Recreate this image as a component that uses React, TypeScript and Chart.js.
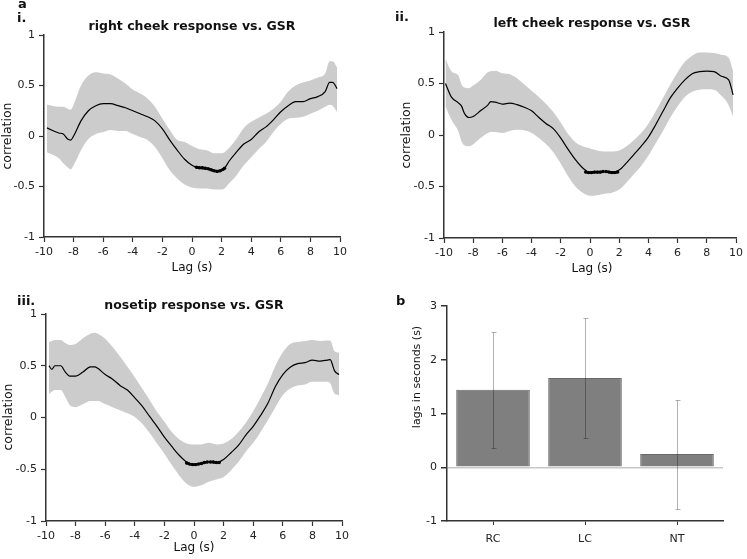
import React, { useEffect, useRef } from 'react';
import { Chart, registerables } from 'chart.js';

Chart.register(...registerables);

const FONT = "'DejaVu Sans', sans-serif";
const BAND = '#cccccc';
const AXIS = '#333333';
const TICK_TEXT = '#222222';

// ---------- panel i : right cheek ----------
const lagI = [-9.8, -9, -8.7, -8.4, -8.2, -8, -7.5, -7, -6.5, -6, -5.5, -5, -4.5, -4, -3.5, -3, -2.5, -2, -1.5, -1, -0.5, 0, 0.5, 1, 1.5, 2, 2.2, 2.5, 3, 3.5, 4, 4.5, 5, 5.5, 6, 6.5, 7, 7.5, 8, 8.5, 9, 9.3, 9.5, 9.8];
const meanI = [0.08, 0.03, 0.02, -0.03, -0.04, 0.0, 0.15, 0.25, 0.3, 0.32, 0.32, 0.3, 0.28, 0.25, 0.22, 0.19, 0.15, 0.07, -0.04, -0.14, -0.23, -0.29, -0.32, -0.325, -0.35, -0.34, -0.32, -0.25, -0.16, -0.08, -0.035, 0.04, 0.09, 0.16, 0.24, 0.3, 0.34, 0.34, 0.37, 0.39, 0.44, 0.53, 0.53, 0.47];
const upperI = [0.31, 0.29, 0.29, 0.27, 0.26, 0.31, 0.5, 0.6, 0.63, 0.62, 0.61, 0.57, 0.52, 0.46, 0.42, 0.37, 0.29, 0.17, 0.06, -0.04, -0.06, -0.1, -0.13, -0.14, -0.17, -0.17, -0.16, -0.12, -0.03, 0.08, 0.14, 0.18, 0.22, 0.27, 0.34, 0.44, 0.5, 0.53, 0.55, 0.58, 0.62, 0.74, 0.74, 0.68];
const lowerI = [-0.16, -0.22, -0.27, -0.31, -0.33, -0.29, -0.14, -0.03, 0.02, 0.04, 0.06, 0.05, 0.05, 0.02, -0.01, -0.04, -0.11, -0.22, -0.34, -0.42, -0.48, -0.51, -0.52, -0.52, -0.53, -0.53, -0.52, -0.47, -0.39, -0.29, -0.21, -0.13, -0.06, 0.04, 0.12, 0.17, 0.18, 0.19, 0.22, 0.25, 0.29, 0.31, 0.3, 0.24];
const sigLagI = [0.3, 0.5, 0.7, 0.9, 1.1, 1.3, 1.5, 1.7, 1.9, 2.1, 2.2];
const sigValI = [-0.31, -0.315, -0.315, -0.32, -0.325, -0.335, -0.345, -0.35, -0.345, -0.33, -0.32];

// ---------- panel ii : left cheek ----------
const lagII = [-9.9, -9.5, -9, -8.8, -8.6, -8.3, -8, -7.5, -7, -6.8, -6.5, -6, -5.5, -5, -4.5, -4, -3.5, -3, -2.5, -2, -1.5, -1, -0.5, 0, 0.5, 1, 1.5, 2, 2.5, 3, 3.5, 4, 4.5, 5, 5.5, 6, 6.5, 7, 7.5, 8, 8.5, 9, 9.5, 9.8];
const meanII = [0.5, 0.37, 0.31, 0.28, 0.21, 0.17, 0.18, 0.235, 0.29, 0.325, 0.32, 0.3, 0.31, 0.295, 0.27, 0.235, 0.17, 0.11, 0.06, -0.03, -0.14, -0.24, -0.32, -0.365, -0.36, -0.355, -0.36, -0.34, -0.27, -0.19, -0.11, -0.02, 0.1, 0.23, 0.36, 0.455, 0.535, 0.595, 0.615, 0.62, 0.615, 0.57, 0.535, 0.39];
const upperII = [0.74, 0.62, 0.575, 0.49, 0.46, 0.455, 0.48, 0.535, 0.61, 0.62, 0.625, 0.6, 0.59, 0.55, 0.49, 0.43, 0.37, 0.3, 0.22, 0.12, 0.01, -0.07, -0.11, -0.13, -0.15, -0.16, -0.16, -0.15, -0.11, -0.05, 0.02, 0.11, 0.23, 0.36, 0.49, 0.61, 0.71, 0.77, 0.8, 0.8, 0.795, 0.78, 0.75, 0.62];
const lowerII = [0.28, 0.15, 0.03, -0.06, -0.1, -0.11, -0.09, -0.03, 0.02, 0.03, 0.03, 0.02, 0.04, 0.05, 0.045, 0.02, -0.03, -0.09, -0.17, -0.28, -0.4, -0.5, -0.56, -0.59, -0.585, -0.57, -0.56, -0.53, -0.46, -0.38, -0.3, -0.2, -0.08, 0.04, 0.17, 0.28, 0.37, 0.42, 0.44, 0.445, 0.44, 0.38, 0.29, 0.18];
const sigLagII = [-0.3, -0.1, 0.1, 0.3, 0.5, 0.7, 0.9, 1.0, 1.1, 1.3, 1.5, 1.7, 1.9];
const sigValII = [-0.36, -0.365, -0.365, -0.36, -0.36, -0.36, -0.355, null, -0.355, -0.36, -0.365, -0.365, -0.36];

// ---------- panel iii : nosetip ----------
const lagIII = [-9.8, -9.6, -9.4, -9, -8.7, -8.4, -8, -7.5, -7, -6.7, -6.5, -6, -5.5, -5, -4.5, -4, -3.5, -3, -2.5, -2, -1.5, -1, -0.5, 0, 0.5, 1, 1.5, 2, 2.5, 3, 3.5, 4, 4.5, 5, 5.5, 6, 6.5, 7, 7.5, 8, 8.5, 9, 9.2, 9.5, 9.8];
const meanIII = [0.5, 0.465, 0.5, 0.5, 0.44, 0.4, 0.4, 0.44, 0.49, 0.49, 0.475, 0.415, 0.37, 0.31, 0.265, 0.19, 0.11, 0.01, -0.085, -0.19, -0.28, -0.365, -0.43, -0.455, -0.445, -0.43, -0.44, -0.405, -0.34, -0.27, -0.17, -0.085, 0.02, 0.14, 0.3, 0.415, 0.485, 0.52, 0.53, 0.555, 0.545, 0.555, 0.56, 0.45, 0.415];
const upperIII = [0.73, 0.74, 0.75, 0.75, 0.72, 0.7, 0.71, 0.765, 0.81, 0.82, 0.81, 0.76, 0.68, 0.59, 0.49, 0.39, 0.28, 0.17, 0.055, -0.04, -0.14, -0.21, -0.25, -0.26, -0.26, -0.245, -0.26, -0.25, -0.21, -0.14, -0.05, 0.06, 0.19, 0.33, 0.5, 0.63, 0.71, 0.73, 0.74, 0.75, 0.74, 0.745, 0.745, 0.64, 0.625];
const lowerIII = [0.23, 0.25, 0.265, 0.265, 0.2, 0.12, 0.1, 0.13, 0.16, 0.16, 0.16, 0.13, 0.1, 0.07, 0.04, 0.005, -0.06, -0.15, -0.25, -0.35, -0.46, -0.56, -0.64, -0.67, -0.655, -0.62, -0.6, -0.575, -0.51, -0.43, -0.33, -0.245, -0.14, -0.025, 0.1, 0.215, 0.28, 0.31, 0.32, 0.345, 0.345, 0.345, 0.33, 0.23, 0.215];
const sigLagIII = [-0.5, -0.3, -0.1, 0.1, 0.3, 0.5, 0.7, 0.9, 1.0, 1.1, 1.3, 1.5, 1.7];
const sigValIII = [-0.44, -0.45, -0.455, -0.455, -0.45, -0.445, -0.435, -0.43, null, -0.43, -0.43, -0.435, -0.435];

// ---------- panel b : lags ----------
const lagCategories = ['RC', 'LC', 'NT'];
const lagMeans = [1.44, 1.66, 0.245];
const lagErrors = [1.08, 1.11, 1.015];

const lagTicks = { min: -10, max: 10, step: 2 };
const corrTicks = { min: -1, max: 1, step: 0.5 };
const barTicks = { min: -1, max: 3, step: 1 };

const toPoints = (xs: number[], ys: (number | null)[]) => xs.map((x, i) => ({ x, y: ys[i] }));
const plainNumber = (v: any) => String(Math.round(Number(v) * 100) / 100);

type TextItem = { text: string; x: number; y: number; font: string; align?: CanvasTextAlign; rotate?: boolean };

const textPlugin = (items: TextItem[]) => ({
  id: 'panelText',
  afterDraw(chart: any) {
    const ctx = chart.ctx as CanvasRenderingContext2D;
    ctx.save();
    ctx.fillStyle = '#111';
    items.forEach((t) => {
      ctx.font = t.font;
      ctx.textAlign = t.align || 'left';
      if (t.rotate) {
        ctx.save();
        ctx.translate(t.x, t.y);
        ctx.rotate(-Math.PI / 2);
        ctx.textBaseline = 'middle';
        ctx.fillText(t.text, 0, 0);
        ctx.restore();
      } else {
        ctx.textBaseline = 'alphabetic';
        ctx.fillText(t.text, t.x, t.y);
      }
    });
    ctx.restore();
  },
});

type LinePanel = {
  lags: number[];
  mean: number[];
  upper: number[];
  lower: number[];
  sigLags: number[];
  sigVals: (number | null)[];
  padding: { left: number; right: number; top: number; bottom: number };
  yWidth: number;
  xHeight: number;
  texts: TextItem[];
};

function lineConfig(p: LinePanel): any {
  return {
    type: 'line',
    data: {
      datasets: [
        {
          data: toPoints(p.sigLags, p.sigVals),
          borderColor: '#000',
          backgroundColor: '#000',
          borderWidth: 2.6,
          pointRadius: 1.7,
          pointBorderWidth: 0,
          spanGaps: false,
          fill: false,
        },
        {
          data: toPoints(p.lags, p.mean),
          borderColor: '#000',
          borderWidth: 1.2,
          pointRadius: 0,
          cubicInterpolationMode: 'monotone',
          fill: false,
        },
        {
          data: toPoints(p.lags, p.lower),
          borderWidth: 0,
          borderColor: 'rgba(0,0,0,0)',
          pointRadius: 0,
          cubicInterpolationMode: 'monotone',
          fill: false,
        },
        {
          data: toPoints(p.lags, p.upper),
          borderWidth: 0,
          borderColor: 'rgba(0,0,0,0)',
          backgroundColor: BAND,
          pointRadius: 0,
          cubicInterpolationMode: 'monotone',
          fill: '-1',
        },
      ],
    },
    options: {
      responsive: false,
      animation: false,
      events: [],
      layout: { padding: p.padding },
      plugins: {
        legend: { display: false },
        tooltip: { enabled: false },
        filler: { drawTime: 'beforeDatasetsDraw' },
      },
      scales: {
        x: {
          type: 'linear',
          min: lagTicks.min,
          max: lagTicks.max,
          ticks: { stepSize: lagTicks.step, color: TICK_TEXT, font: { family: FONT, size: 11 }, padding: 4, maxRotation: 0, autoSkip: false, callback: plainNumber },
          grid: { display: true, drawOnChartArea: false, drawTicks: true, tickLength: 5, color: AXIS, tickWidth: 1.2 },
          border: { display: true, color: AXIS, width: 1.5 },
          afterFit: (s: any) => { s.height = p.xHeight; },
        },
        y: {
          type: 'linear',
          min: corrTicks.min,
          max: corrTicks.max,
          ticks: { stepSize: corrTicks.step, color: TICK_TEXT, font: { family: FONT, size: 11 }, padding: 4, callback: plainNumber },
          grid: { display: true, drawOnChartArea: false, drawTicks: true, tickLength: 5, color: AXIS, tickWidth: 1.2 },
          border: { display: true, color: AXIS, width: 1.5 },
          afterFit: (s: any) => { s.width = p.yWidth; },
        },
      },
    },
    plugins: [textPlugin(p.texts)],
  };
}

const BOLD = `bold 13px ${FONT}`;
const TITLE = `bold 12.5px ${FONT}`;
const AXT = `12px ${FONT}`;
const AXY = `12.5px ${FONT}`;

const panelI: LinePanel = {
  lags: lagI, mean: meanI, upper: upperI, lower: lowerI, sigLags: sigLagI, sigVals: sigValI,
  padding: { left: 0, right: 34, top: 35, bottom: 0 }, yWidth: 44, xHeight: 43,
  texts: [
    { text: 'a', x: 18, y: 8, font: BOLD },
    { text: 'i.', x: 17, y: 22, font: BOLD },
    { text: 'right cheek response vs. GSR', x: 192, y: 30, font: TITLE, align: 'center' },
    { text: 'correlation', x: 8, y: 136, font: AXY, align: 'center', rotate: true },
    { text: 'Lag (s)', x: 192, y: 271, font: AXT, align: 'center' },
  ],
};

const panelII: LinePanel = {
  lags: lagII, mean: meanII, upper: upperII, lower: lowerII, sigLags: sigLagII, sigVals: sigValII,
  padding: { left: 26, right: 7, top: 32, bottom: 0 }, yWidth: 44, xHeight: 42,
  texts: [
    { text: 'ii.', x: 21, y: 21, font: BOLD },
    { text: 'left cheek response vs. GSR', x: 218, y: 27, font: TITLE, align: 'center' },
    { text: 'correlation', x: 33, y: 135, font: AXY, align: 'center', rotate: true },
    { text: 'Lag (s)', x: 218, y: 272, font: AXT, align: 'center' },
  ],
};

const panelIII: LinePanel = {
  lags: lagIII, mean: meanIII, upper: upperIII, lower: lowerIII, sigLags: sigLagIII, sigVals: sigValIII,
  padding: { left: 0, right: 32, top: 34, bottom: 0 }, yWidth: 46, xHeight: 38,
  texts: [
    { text: 'iii.', x: 17, y: 25, font: BOLD },
    { text: 'nosetip response vs. GSR', x: 194, y: 29, font: TITLE, align: 'center' },
    { text: 'correlation', x: 9, y: 137, font: AXY, align: 'center', rotate: true },
    { text: 'Lag (s)', x: 194, y: 271, font: AXT, align: 'center' },
  ],
};

const errorBarPlugin = {
  id: 'errorBars',
  afterDatasetsDraw(chart: any) {
    const meta = chart.getDatasetMeta(0);
    const y = chart.scales.y;
    const ctx = chart.ctx as CanvasRenderingContext2D;
    ctx.save();
    ctx.strokeStyle = 'rgba(0,0,0,0.3)';
    ctx.lineWidth = 1;
    meta.data.forEach((bar: any, i: number) => {
      const x = Math.round(bar.x) + 0.5;
      const t = Math.round(y.getPixelForValue(lagMeans[i] + lagErrors[i])) + 0.5;
      const b = Math.round(y.getPixelForValue(lagMeans[i] - lagErrors[i])) + 0.5;
      ctx.beginPath();
      ctx.moveTo(x, t);
      ctx.lineTo(x, b);
      ctx.moveTo(x - 2, t);
      ctx.lineTo(x + 3, t);
      ctx.moveTo(x - 2, b);
      ctx.lineTo(x + 3, b);
      ctx.stroke();
    });
    ctx.restore();
  },
};

function barConfig(): any {
  return {
    type: 'bar',
    data: {
      labels: lagCategories,
      datasets: [
        {
          data: lagMeans,
          backgroundColor: '#7f7f7f',
          borderColor: '#6a6a6a',
          borderWidth: 1,
          barPercentage: 0.8,
          categoryPercentage: 1,
        },
      ],
    },
    options: {
      responsive: false,
      animation: false,
      events: [],
      layout: { padding: { left: 0, right: 24, top: 26, bottom: 0 } },
      plugins: { legend: { display: false }, tooltip: { enabled: false } },
      scales: {
        x: {
          type: 'category',
          offset: true,
          ticks: { color: TICK_TEXT, font: { family: FONT, size: 11 }, padding: 8 },
          grid: { display: true, offset: false, drawOnChartArea: false, drawTicks: true, tickLength: 4, color: AXIS },
          border: { display: true, color: AXIS, width: 1.5 },
          afterFit: (s: any) => { s.height = 38; },
        },
        y: {
          type: 'linear',
          min: barTicks.min,
          max: barTicks.max,
          ticks: { stepSize: barTicks.step, color: TICK_TEXT, font: { family: FONT, size: 11 }, padding: 4, callback: plainNumber },
          grid: {
            display: true,
            drawOnChartArea: true,
            drawTicks: true,
            tickLength: 6,
            lineWidth: 1.5,
            color: (c: any) => (c.tick && c.tick.value === 0 ? '#c8c8c8' : 'rgba(0,0,0,0)'),
            tickColor: AXIS,
          },
          border: { display: true, color: AXIS, width: 1.5 },
          afterFit: (s: any) => { s.width = 73; },
        },
      },
    },
    plugins: [
      errorBarPlugin,
      textPlugin([
        { text: 'b', x: 22, y: 25, font: BOLD },
        { text: 'lags in seconds (s)', x: 43, y: 97, font: `11px ${FONT}`, align: 'center', rotate: true },
      ]),
    ],
  };
}

function Panel({ left, top, width, height, makeConfig }: { left: number; top: number; width: number; height: number; makeConfig: () => any }) {
  const ref = useRef<HTMLCanvasElement | null>(null);
  useEffect(() => {
    if (!ref.current) return;
    const chart = new Chart(ref.current, makeConfig());
    return () => chart.destroy();
  }, []);
  return (
    <canvas
      ref={ref}
      width={width}
      height={height}
      style={{ position: 'absolute', left, top, width, height, display: 'block' }}
    />
  );
}

export default function App() {
  return (
    <div style={{ position: 'absolute', left: 0, top: 0, width: 747, height: 559, background: '#fff', overflow: 'hidden' }}>
      <Panel left={0} top={0} width={374} height={280} makeConfig={() => lineConfig(panelI)} />
      <Panel left={374} top={0} width={373} height={280} makeConfig={() => lineConfig(panelII)} />
      <Panel left={0} top={280} width={374} height={279} makeConfig={() => lineConfig(panelIII)} />
      <Panel left={374} top={280} width={373} height={279} makeConfig={barConfig} />
    </div>
  );
}
